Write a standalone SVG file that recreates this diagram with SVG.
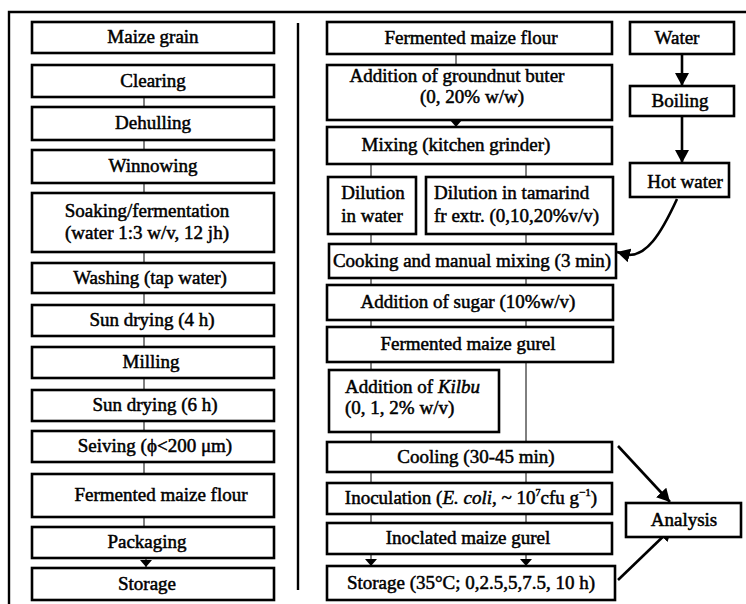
<svg xmlns="http://www.w3.org/2000/svg" width="746" height="604" viewBox="0 0 746 604">
<style>
.b{fill:#fff;stroke:#000;stroke-width:2.6}
.t{font-family:"Liberation Serif","Times New Roman",serif;font-size:19px;fill:#000;stroke:#000;stroke-width:0.5;text-anchor:middle}
.l{text-anchor:start}
.c{fill:none;stroke:#000;stroke-width:1}
.a{fill:none;stroke:#000;stroke-width:2.6}
.f{fill:none;stroke:#000;stroke-width:2.4}
</style>
<defs>
<marker id="big" viewBox="0 0 10 10" refX="10" refY="5" markerWidth="13" markerHeight="14" markerUnits="userSpaceOnUse" orient="auto" preserveAspectRatio="none"><path d="M0,0 L10,5 L0,10 z" fill="#000"/></marker>
<marker id="sm" viewBox="0 0 10 10" refX="10" refY="5" markerWidth="7" markerHeight="12" markerUnits="userSpaceOnUse" orient="auto" preserveAspectRatio="none"><path d="M0,0 L10,5 L0,10 z" fill="#000"/></marker>
</defs>
<g id="frame">
<path class="f" d="M9,604 V12 H746"/>
<path class="f" d="M298,23 V590"/>
</g>
<g id="connectors">
<path class="c" d="M144,97 V107 M144,140 V150 M144,183 V193 M144,252 V263 M144,293 V305 M144,336 V347 M144,378 V390 M144,421 V431 M144,462 V474 M144,517 V527"/>
<path class="c" d="M146,558 V567" marker-end="url(#sm)"/>
<path class="c" d="M456,54 V65"/>
<path class="c" d="M456,120 V127" marker-end="url(#sm)"/>
<path class="c" d="M371,164 V177 M526,164 V177 M371,234 V244 M526,234 V244 M371,278 V285 M526,278 V285 M371,320 V327 M526,320 V327 M371,362 V370 M526,362 V442 M371,432 V442 M371,472 V483 M526,472 V483 M371,514 V523 M526,514 V523"/>
<path class="c" d="M371,554 V566" marker-end="url(#sm)"/>
<path class="c" d="M526,554 V566" marker-end="url(#sm)"/>
<path class="a" d="M682,54 V86" marker-end="url(#big)"/>
<path class="a" d="M682,116 V163" marker-end="url(#big)"/>
<path class="a" d="M677,199 C660,236 646,256 628,255 L617,252" marker-end="url(#big)"/>
<path class="a" d="M618,446 L670,502" marker-end="url(#big)"/>
<path class="a" d="M618,580 L672,528" marker-end="url(#big)"/>
</g>
<g id="maize-grain"><rect class="b" x="32" y="22" width="242" height="31"/><text class="t" x="153" y="43">Maize grain</text></g>
<g id="clearing"><rect class="b" x="32" y="65" width="242" height="32"/><text class="t" x="153" y="87">Clearing</text></g>
<g id="dehulling"><rect class="b" x="32" y="107" width="242" height="33"/><text class="t" x="153" y="129">Dehulling</text></g>
<g id="winnowing"><rect class="b" x="32" y="150" width="242" height="33"/><text class="t" x="153" y="172">Winnowing</text></g>
<g id="soaking"><rect class="b" x="32" y="193" width="242" height="59"/><text class="t" x="147" y="217">Soaking/fermentation</text><text class="t" x="147" y="239">(water 1:3 w/v, 12 jh)</text></g>
<g id="washing"><rect class="b" x="32" y="263" width="242" height="30"/><text class="t" x="150" y="284">Washing (tap water)</text></g>
<g id="sun-drying-4"><rect class="b" x="32" y="305" width="242" height="31"/><text class="t" x="152" y="326">Sun drying (4 h)</text></g>
<g id="milling"><rect class="b" x="32" y="347" width="242" height="31"/><text class="t" x="151" y="368">Milling</text></g>
<g id="sun-drying-6"><rect class="b" x="32" y="390" width="242" height="31"/><text class="t" x="155" y="411">Sun drying (6 h)</text></g>
<g id="seiving"><rect class="b" x="32" y="431" width="242" height="31"/><text class="t" x="155" y="452">Seiving (ϕ&lt;200 μm)</text></g>
<g id="flour-left"><rect class="b" x="32" y="474" width="242" height="43"/><text class="t" x="161" y="501">Fermented maize flour</text></g>
<g id="packaging"><rect class="b" x="32" y="527" width="242" height="31"/><text class="t" x="147" y="548">Packaging</text></g>
<g id="storage-left"><rect class="b" x="32" y="568" width="242" height="32"/><text class="t" x="147" y="590">Storage</text></g>
<g id="flour-right"><rect class="b" x="327" y="22" width="285" height="32"/><text class="t" x="471" y="44">Fermented maize flour</text></g>
<g id="groundnut"><rect class="b" x="327" y="65" width="285" height="55"/><text class="t" x="457" y="82">Addition of groundnut buter</text><text class="t" x="472" y="103">(0, 20% w/w)</text></g>
<g id="mixing"><rect class="b" x="327" y="127" width="285" height="37"/><text class="t" x="456" y="151">Mixing (kitchen grinder)</text></g>
<g id="dilution-water"><rect class="b" x="328" y="177" width="88" height="57"/><text class="t" x="373" y="199">Dilution</text><text class="t" x="372" y="222">in water</text></g>
<g id="dilution-tamarind"><rect class="b" x="426" y="177" width="187" height="57"/><text class="t l" x="434" y="199">Dilution in tamarind</text><text class="t l" x="434" y="222">fr extr. (0,10,20%v/v)</text></g>
<g id="cooking"><rect class="b" x="329" y="244" width="287" height="34"/><text class="t" x="472" y="267">Cooking and manual mixing (3 min)</text></g>
<g id="sugar"><rect class="b" x="327" y="285" width="286" height="35"/><text class="t" x="468" y="308">Addition of sugar (10%w/v)</text></g>
<g id="gurel"><rect class="b" x="327" y="327" width="286" height="35"/><text class="t" x="468" y="350">Fermented maize gurel</text></g>
<g id="kilbu"><rect class="b" x="329" y="370" width="170" height="62"/><text class="t l" x="345" y="393">Addition of <tspan font-style="italic">Kilbu</tspan></text><text class="t l" x="345" y="414">(0, 1, 2% w/v)</text></g>
<g id="cooling"><rect class="b" x="327" y="442" width="285" height="30"/><text class="t" x="476" y="463">Cooling (30-45 min)</text></g>
<g id="inoculation"><rect class="b" x="327" y="483" width="285" height="31"/><text class="t" x="471" y="504">Inoculation (<tspan font-style="italic">E. coli</tspan>, ~ 10<tspan font-size="10" dy="-8">7</tspan><tspan dy="8">cfu g</tspan><tspan font-size="11" dy="-8">−1</tspan><tspan dy="8">)</tspan></text></g>
<g id="inoculated"><rect class="b" x="327" y="523" width="285" height="31"/><text class="t" x="468" y="544">Inoclated maize gurel</text></g>
<g id="storage-right"><rect class="b" x="327" y="566" width="288" height="34"/><text class="t" x="471" y="589">Storage (35°C; 0,2.5,5,7.5, 10 h)</text></g>
<g id="water"><rect class="b" x="630" y="22" width="104" height="32"/><text class="t" x="677" y="44">Water</text></g>
<g id="boiling"><rect class="b" x="630" y="86" width="104" height="30"/><text class="t" x="680" y="107">Boiling</text></g>
<g id="hot-water"><rect class="b" x="630" y="163" width="99" height="34"/><text class="t" x="685" y="188">Hot water</text></g>
<g id="analysis"><rect class="b" x="626" y="503" width="115" height="34"/><text class="t" x="684" y="526">Analysis</text></g>
</svg>
